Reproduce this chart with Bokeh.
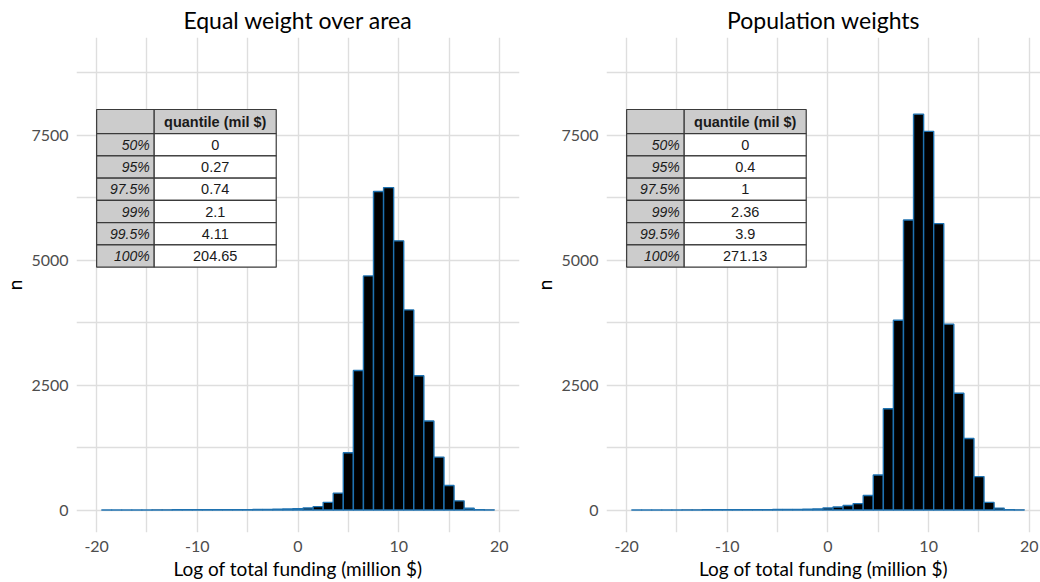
import numpy as np
from bokeh.plotting import figure
from bokeh.models import Range1d, FixedTicker, ColumnDataSource
from bokeh.layouts import row
from bokeh.core.properties import value
from bokeh.embed import file_html
from bokeh.resources import INLINE

# ---------------- data ----------------
bin_centers = list(range(-19, 20))
counts_area = [2, 1, 1, 2, 2, 3, 3, 4, 4, 5, 5, 6, 6, 7, 8, 10, 12, 14, 20,
               28, 40, 67, 153, 337, 1145, 2791, 4682, 6369, 6448, 5383,
               4002, 2685, 1779, 1058, 490, 183, 35, 8, 3]
counts_pop = [2, 1, 1, 2, 2, 3, 3, 4, 4, 5, 5, 6, 7, 8, 9, 10, 12, 14, 22,
              40, 59, 91, 128, 291, 700, 2024, 3796, 5800, 7917, 7573,
              5728, 3717, 2335, 1429, 668, 152, 38, 8, 3]
quantile_labels = ["50%", "95%", "97.5%", "99%", "99.5%", "100%"]
quantiles_area = ["0", "0.27", "0.74", "2.1", "4.11", "204.65"]
quantiles_pop = ["0", "0.4", "1", "2.36", "3.9", "271.13"]
table_header = "quantile (mil $)"
titles = ["Equal weight over area", "Population weights"]
x_ticks = [-20, -10, 0, 10, 20]
x_tick_labels = ["-20", "-10", "0", "10", "20"]
y_ticks = [0, 2500, 5000, 7500]

FONT = "Lato"
TFONT = "Liberation Sans"
GRID = "#DEDEDE"
BAR_LINE = "#1F72B0"


def make_panel(title, counts, qvals, width, min_left, min_right, x_end):
    frame_w = width - min_left - min_right
    p = figure(width=width, height=582, output_backend="svg", toolbar_location=None,
               x_range=Range1d(-22, x_end), y_range=Range1d(-450, 9450),
               min_border_left=min_left, min_border_right=min_right,
               min_border_top=37, min_border_bottom=47)
    p.outline_line_color = None
    p.background_fill_color = "white"
    p.border_fill_color = "white"

    p.title.text = title
    p.title.align = "center"
    p.title.vertical_align = "middle"
    p.title.text_font = FONT
    p.title.text_font_size = "23px"
    p.title.text_font_style = "normal"
    p.title.text_color = "black"
    p.title.standoff = 6

    for ax in (p.xaxis[0], p.yaxis[0]):
        ax.axis_line_color = None
        ax.major_tick_line_color = None
        ax.minor_tick_line_color = None
        ax.major_tick_out = 0
        ax.major_tick_in = 0
        ax.major_label_text_font = FONT
        ax.major_label_text_font_size = "16px"
        ax.major_label_text_color = "#4D4D4D"
        ax.axis_label_text_font = FONT
        ax.axis_label_text_font_size = "19px"
        ax.axis_label_text_font_style = "normal"
        ax.axis_label_text_color = "black"
        ax.major_label_standoff = 8
        ax.axis_label_standoff = 2
    p.xaxis.ticker = FixedTicker(ticks=x_ticks)
    p.xaxis.major_label_overrides = {t: s for t, s in zip(x_ticks, x_tick_labels)}
    p.yaxis.ticker = FixedTicker(ticks=y_ticks)
    p.xaxis.axis_label = "Log of total funding (million $)"
    p.yaxis.axis_label = "n"
    p.yaxis.major_label_orientation = "horizontal"

    p.xgrid.ticker = FixedTicker(ticks=list(range(-20, 21, 5)))
    p.ygrid.ticker = FixedTicker(ticks=list(range(0, 9000, 1250)))
    for g in (p.xgrid[0], p.ygrid[0]):
        g.grid_line_color = GRID
        g.grid_line_width = 1.4

    c = np.array(bin_centers, dtype=float)
    src = ColumnDataSource(dict(left=c - 0.5, right=c + 0.5, top=counts,
                                bottom=[0] * len(counts)))
    p.quad(left="left", right="right", top="top", bottom="bottom", source=src,
           fill_color="black", line_color=BAR_LINE, line_width=1.4)

    # ---- quantile table (annotation) ----
    px_x = frame_w / (x_end + 22.0)          # pixels per x unit
    px_y = 498.3 / 9900.0                     # pixels per y unit
    tx0 = -20.0
    ty0 = 8010.0
    col_w = [57.7 / px_x, 122.3 / px_x]
    head_h = 24.3 / px_y
    row_h = 22.4 / px_y
    xl, xm, xr = tx0, tx0 + col_w[0], tx0 + col_w[0] + col_w[1]

    lefts, rights, tops, bottoms, fills = [], [], [], [], []
    lefts += [xl, xm]; rights += [xm, xr]
    tops += [ty0, ty0]; bottoms += [ty0 - head_h, ty0 - head_h]
    fills += ["#CCCCCC", "#CCCCCC"]
    for i in range(len(quantile_labels)):
        t = ty0 - head_h - i * row_h
        b = t - row_h
        lefts += [xl, xm]; rights += [xm, xr]
        tops += [t, t]; bottoms += [b, b]
        fills += ["#CCCCCC", "#FFFFFF"]
    p.quad(left=lefts, right=rights, top=tops, bottom=bottoms,
           fill_color=fills, line_color="#3A3A3A", line_width=1.2)

    p.text(x=[(xm + xr) / 2], y=[ty0 - head_h / 2], text=[table_header],
           text_font=value(TFONT), text_font_size="14.5px", text_font_style="bold",
           text_align="center", text_baseline="middle", text_color="#1A1A1A")
    ys = [ty0 - head_h - (i + 0.5) * row_h for i in range(len(quantile_labels))]
    p.text(x=[xm - 4.5 / px_x] * len(ys), y=ys, text=quantile_labels,
           text_font=value(TFONT), text_font_size="14px", text_font_style="italic",
           text_align="right", text_baseline="middle", text_color="#1A1A1A")
    p.text(x=[(xm + xr) / 2] * len(ys), y=ys, text=qvals,
           text_font=value(TFONT), text_font_size="14.5px", text_font_style="normal",
           text_align="center", text_baseline="middle", text_color="#1A1A1A")
    return p


p1 = make_panel(titles[0], counts_area, quantiles_area, 530, 75, 11, 22.0)
p2 = make_panel(titles[1], counts_pop, quantiles_pop, 510, 75, 0, 21.11)

layout = row(p1, p2, spacing=0)
open("out.html", "w").write(file_html(layout, INLINE))
